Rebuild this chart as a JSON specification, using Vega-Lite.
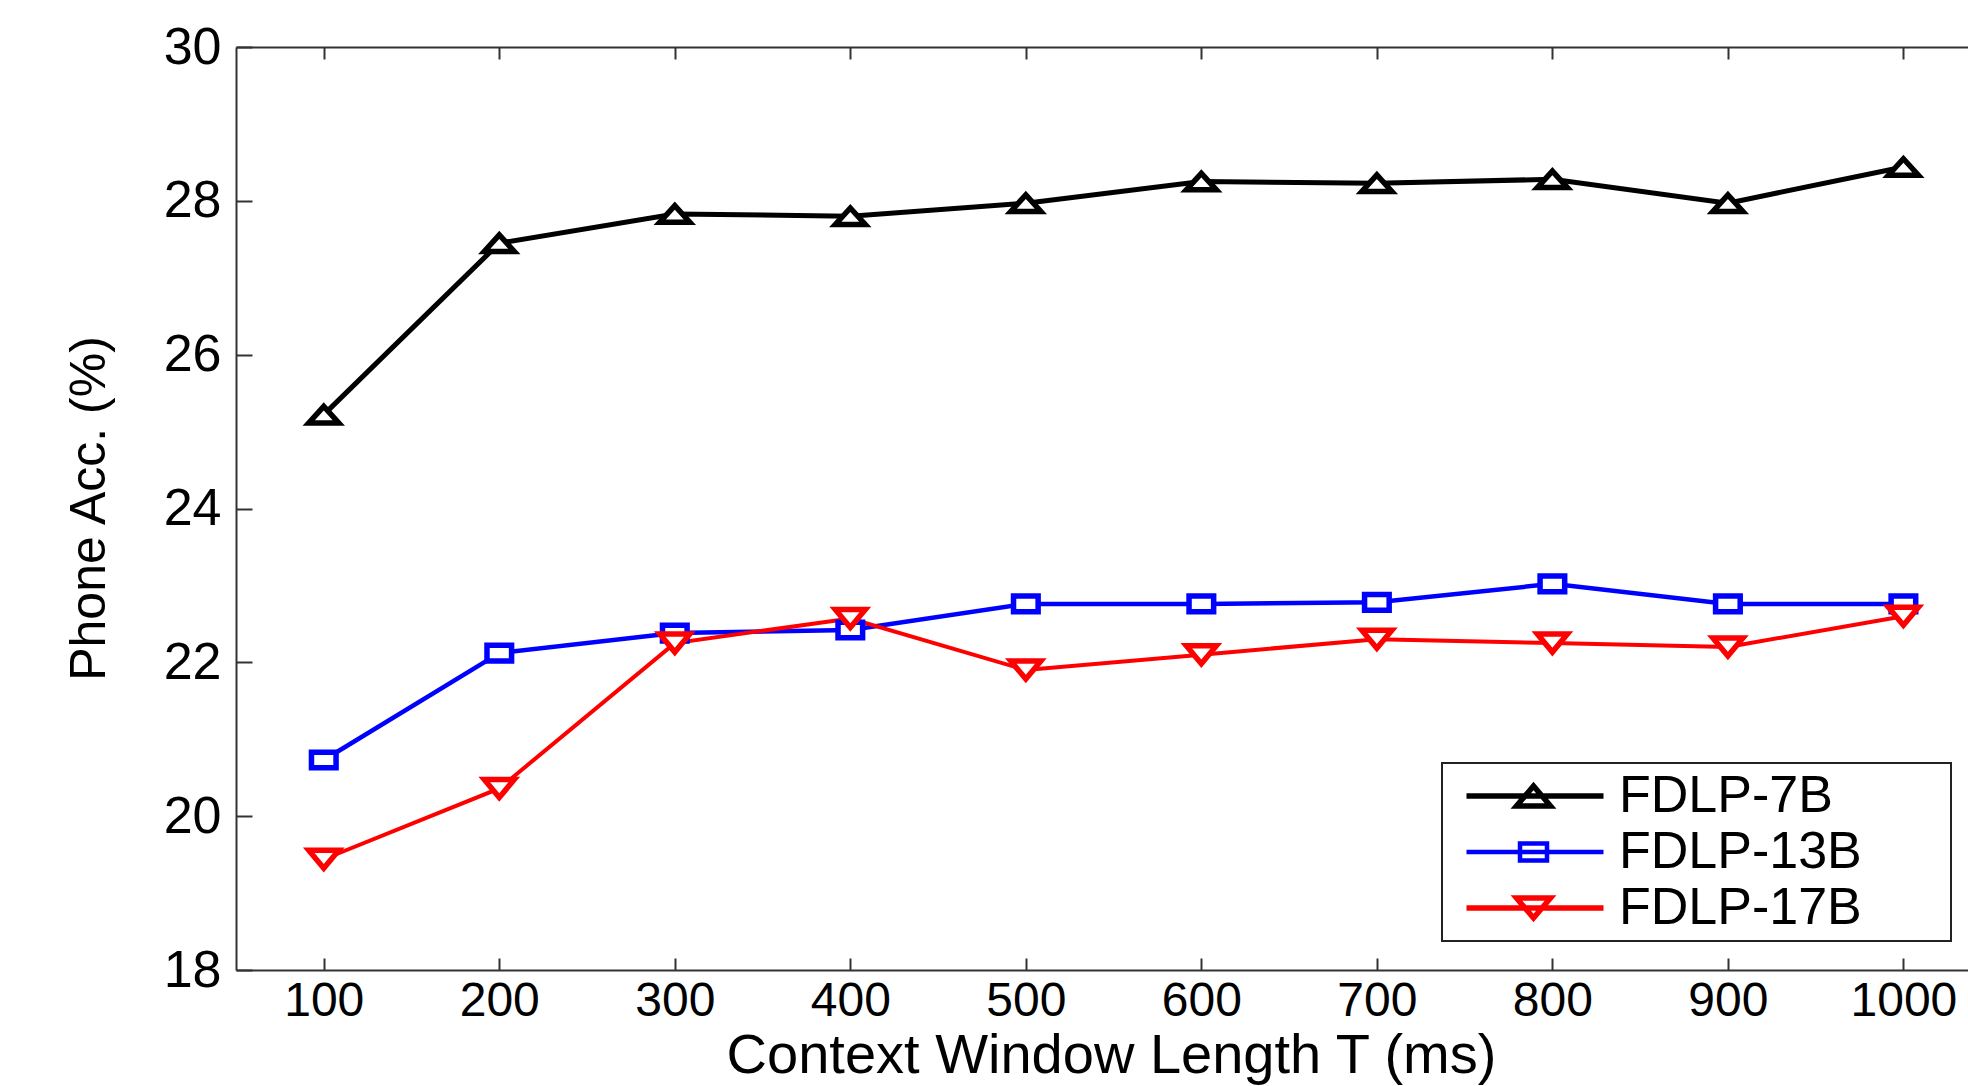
{
  "$schema": "https://vega.github.io/schema/vega-lite/v6.json",
  "width": 1732,
  "height": 923,
  "autosize": {"type": "none"},
  "padding": {"left": 236, "top": 47, "right": 0, "bottom": 116},
  "background": "white",
  "config": {"view": {"stroke": null}, "font": "Liberation Sans"},
  "data": {"values": [
    {"T": 100, "series": "FDLP-7B", "acc": 25.22},
    {"T": 200, "series": "FDLP-7B", "acc": 27.45},
    {"T": 300, "series": "FDLP-7B", "acc": 27.83},
    {"T": 400, "series": "FDLP-7B", "acc": 27.80},
    {"T": 500, "series": "FDLP-7B", "acc": 27.97},
    {"T": 600, "series": "FDLP-7B", "acc": 28.25},
    {"T": 700, "series": "FDLP-7B", "acc": 28.23},
    {"T": 800, "series": "FDLP-7B", "acc": 28.28},
    {"T": 900, "series": "FDLP-7B", "acc": 27.97},
    {"T": 1000, "series": "FDLP-7B", "acc": 28.44},
    {"T": 100, "series": "FDLP-13B", "acc": 20.73},
    {"T": 200, "series": "FDLP-13B", "acc": 22.12},
    {"T": 300, "series": "FDLP-13B", "acc": 22.38},
    {"T": 400, "series": "FDLP-13B", "acc": 22.42},
    {"T": 500, "series": "FDLP-13B", "acc": 22.76},
    {"T": 600, "series": "FDLP-13B", "acc": 22.76},
    {"T": 700, "series": "FDLP-13B", "acc": 22.78},
    {"T": 800, "series": "FDLP-13B", "acc": 23.02},
    {"T": 900, "series": "FDLP-13B", "acc": 22.76},
    {"T": 1000, "series": "FDLP-13B", "acc": 22.76},
    {"T": 100, "series": "FDLP-17B", "acc": 19.44},
    {"T": 200, "series": "FDLP-17B", "acc": 20.36},
    {"T": 300, "series": "FDLP-17B", "acc": 22.25},
    {"T": 400, "series": "FDLP-17B", "acc": 22.57},
    {"T": 500, "series": "FDLP-17B", "acc": 21.90},
    {"T": 600, "series": "FDLP-17B", "acc": 22.10},
    {"T": 700, "series": "FDLP-17B", "acc": 22.30},
    {"T": 800, "series": "FDLP-17B", "acc": 22.25},
    {"T": 900, "series": "FDLP-17B", "acc": 22.20},
    {"T": 1000, "series": "FDLP-17B", "acc": 22.60}
  ]},
  "resolve": {"axis": {"x": "independent"}, "scale": {"stroke": "independent"}, "legend": {"stroke": "independent"}},
  "layer": [
    {
      "mark": {"type": "line", "clip": false},
      "encoding": {
        "x": {"field": "T", "type": "quantitative",
          "scale": {"domain": [50, 1036.8], "nice": false, "zero": false},
          "axis": {"orient": "bottom", "values": [100,200,300,400,500,600,700,800,900,1000], "format": "d",
            "grid": false, "tickSize": -12, "tickWidth": 2, "tickColor": "#333", "domainColor": "#333", "domainWidth": 2,
            "labelFont": "Liberation Sans", "labelFontSize": 48, "labelColor": "black", "labelPadding": 19,
            "labelFlush": false, "labelOverlap": false,
            "title": "Context Window Length T (ms)", "titleFont": "Liberation Sans", "titleFontSize": 56,
            "titleFontWeight": "normal", "titleColor": "black", "titleX": 875, "titleY": 102.5, "titleBaseline": "alphabetic", "titleAlign": "center"}},
        "y": {"field": "acc", "type": "quantitative",
          "scale": {"domain": [18, 30], "nice": false, "zero": false},
          "axis": {"orient": "left", "values": [18,20,22,24,26,28,30], "format": "d", "grid": false,
            "tickSize": -16, "tickWidth": 2, "tickColor": "#333", "domainColor": "#333", "domainWidth": 2,
            "labelFont": "Liberation Sans", "labelFontSize": 52, "labelColor": "black", "labelPadding": 31,
            "labelFlush": false, "labelOverlap": false,
            "title": "Phone Acc. (%)", "titleFont": "Liberation Sans", "titleFontSize": 50, "titleFontWeight": "normal",
            "titleColor": "black", "titleX": -122, "titleY": 461, "titleBaseline": "bottom", "titleAlign": "center", "titleAngle": 270}},
        "stroke": {"field": "series", "type": "nominal",
          "scale": {"domain": ["FDLP-7B", "FDLP-13B", "FDLP-17B"], "range": ["#000000", "#0000ff", "#ff0000"]},
          "legend": {
            "orient": "none", "legendX": 1206, "legendY": 716, "title": null,
            "padding": 7, "strokeColor": "#222", "fillColor": "white",
            "labelFont": "Liberation Sans", "labelFontSize": 52, "labelColor": "black", "labelLimit": 1000,
            "labelOffset": 118, "rowPadding": 4, "symbolSize": 1600, "symbolStrokeWidth": 4,
            "encode": {
              "legend": {"update": {"strokeWidth": {"value": 2}}},
              "symbols": {"update": {
                "shape": {"signal": "datum.value === 'FDLP-7B' ? 'M-0.425,0H6.425M2.075,0.5L3.775,0.5L2.925,-0.5ZM22.9,0' : datum.value === 'FDLP-13B' ? 'M-0.425,0H6.425M2.25,-0.42H3.6V0.42H2.25ZM22.9,0' : 'M-0.425,0H6.425M2.075,-0.5L3.775,-0.5L2.925,0.5ZM22.9,0'"},
                "fill": {"value": "white"},
                "size": {"value": 1600},
                "strokeWidth": {"signal": "datum.value === 'FDLP-13B' ? 4.5 : 5.5"},
                "opacity": {"value": 1}
              }}
            }
          }},
        "strokeWidth": {"field": "series", "type": "nominal",
          "scale": {"domain": ["FDLP-7B", "FDLP-13B", "FDLP-17B"], "range": [5, 4, 5]},
          "legend": null}
      }
    },
    {
      "mark": {"type": "point", "filled": false, "fill": "white", "strokeWidth": 5.5, "size": 900, "opacity": 1, "clip": false},
      "encoding": {
        "x": {"field": "T", "type": "quantitative",
          "axis": {"orient": "top", "values": [100,200,300,400,500,600,700,800,900,1000], "labels": false,
            "grid": false, "tickSize": -12, "tickWidth": 2, "tickColor": "#333", "domainColor": "#333", "domainWidth": 2, "title": null}},
        "y": {"field": "acc", "type": "quantitative"},
        "stroke": {"field": "series", "type": "nominal",
          "scale": {"domain": ["FDLP-7B", "FDLP-13B", "FDLP-17B"], "range": ["#000000", "#0000ff", "#ff0000"]},
          "legend": null},
        "shape": {"field": "series", "type": "nominal",
          "scale": {"domain": ["FDLP-7B", "FDLP-13B", "FDLP-17B"],
            "range": ["M-1,0.55L1,0.55L0,-0.55Z", "M-0.82,-0.52L0.82,-0.52L0.82,0.52L-0.82,0.52Z", "M-1,-0.6L1,-0.6L0,0.6Z"]},
          "legend": null}
      }
    }
  ]
}
